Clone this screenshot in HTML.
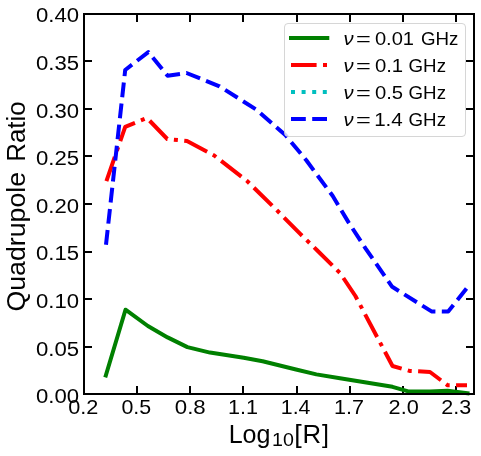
<!DOCTYPE html>
<html><head><meta charset="utf-8"><title>chart</title>
<style>
html,body{margin:0;padding:0;background:#fff;}
body{width:481px;height:456px;overflow:hidden;font-family:"Liberation Sans",sans-serif;}
svg{display:block;}
text{font-family:"Liberation Sans",sans-serif;fill:#000;}
</style></head><body>
<svg width="481" height="456" viewBox="0 0 481 456">
<rect x="0" y="0" width="481" height="456" fill="#fff"/>
<g stroke="#000" stroke-width="2">
<line x1="137" y1="394" x2="137" y2="386"/>
<line x1="137" y1="14" x2="137" y2="22"/>
<line x1="190" y1="394" x2="190" y2="386"/>
<line x1="190" y1="14" x2="190" y2="22"/>
<line x1="243" y1="394" x2="243" y2="386"/>
<line x1="243" y1="14" x2="243" y2="22"/>
<line x1="297" y1="394" x2="297" y2="386"/>
<line x1="297" y1="14" x2="297" y2="22"/>
<line x1="350" y1="394" x2="350" y2="386"/>
<line x1="350" y1="14" x2="350" y2="22"/>
<line x1="403" y1="394" x2="403" y2="386"/>
<line x1="403" y1="14" x2="403" y2="22"/>
<line x1="456" y1="394" x2="456" y2="386"/>
<line x1="456" y1="14" x2="456" y2="22"/>
<line x1="84" y1="347" x2="92" y2="347"/>
<line x1="474" y1="347" x2="466" y2="347"/>
<line x1="84" y1="299" x2="92" y2="299"/>
<line x1="474" y1="299" x2="466" y2="299"/>
<line x1="84" y1="252" x2="92" y2="252"/>
<line x1="474" y1="252" x2="466" y2="252"/>
<line x1="84" y1="204" x2="92" y2="204"/>
<line x1="474" y1="204" x2="466" y2="204"/>
<line x1="84" y1="156" x2="92" y2="156"/>
<line x1="474" y1="156" x2="466" y2="156"/>
<line x1="84" y1="109" x2="92" y2="109"/>
<line x1="474" y1="109" x2="466" y2="109"/>
<line x1="84" y1="61" x2="92" y2="61"/>
<line x1="474" y1="61" x2="466" y2="61"/>
</g>
<g fill="none" stroke-width="4" stroke-linejoin="round">
<polyline points="105.8,375.5 125.5,309.7 147.9,326.0 167.6,337.4 187.4,347.1 210.0,352.6 243.7,357.8 262.6,361.3 296.0,369.5 316.4,374.4 340.0,378.2 392.5,386.8 409.1,391.6 430.0,391.6 447.6,390.8 467.5,393.2" stroke="#008000" stroke-linecap="square"/>
<polyline points="106.4,181.1 125.2,126.8 147.0,118.0 167.3,139.0 187.0,141.0 214.2,155.5 247.1,181.0 277.4,210.8 300.0,233.7 316.8,250.0 340.0,273.0 355.4,296.0 392.5,366.0 409.5,370.9 430.0,372.0 447.7,385.3 467.0,385.3" stroke="#ff0000" stroke-dasharray="25.6 6.4 4 6.4"/>
<polyline points="106.0,244.7 125.2,70.0 148.3,52.1 167.6,75.7 186.5,73.0 219.5,86.3 256.3,109.6 285.3,135.0 306.3,160.3 332.6,195.8 348.4,222.1 365.5,248.4 392.2,286.8 431.5,311.4 448.2,311.6 466.5,288.5" stroke="#0000ff" stroke-dasharray="14.8 6.4"/>
</g>
<rect x="84" y="14" width="390" height="380" fill="none" stroke="#000" stroke-width="2"/>
<rect x="284.5" y="23.5" width="181" height="113" rx="3.5" ry="3.5" fill="#fff" fill-opacity="0.8" stroke="#cccccc" stroke-opacity="0.8" stroke-width="1"/>
<g fill="none" stroke-width="4">
<line x1="291" y1="38" x2="327.3" y2="38" stroke="#008000" stroke-linecap="square"/>
<line x1="291" y1="65" x2="327.3" y2="65" stroke="#ff0000" stroke-dasharray="25.6 6.4 4 6.4"/>
<line x1="291" y1="92" x2="327.3" y2="92" stroke="#00bfbf" stroke-dasharray="4 6.6"/>
<line x1="291" y1="119" x2="327.3" y2="119" stroke="#0000ff" stroke-dasharray="14.8 6.4"/>
</g>
<g opacity="0.996">
<text transform="translate(68.23,413.70) scale(1.0429,1)" font-size="20.8">0.2</text>
<text transform="translate(121.44,413.70) scale(1.0296,1)" font-size="20.8">0.5</text>
<text transform="translate(174.81,413.70) scale(1.0700,1)" font-size="20.8">0.8</text>
<text transform="translate(227.88,413.70) scale(1.0393,1)" font-size="20.8">1.1</text>
<text transform="translate(280.80,413.70) scale(1.0251,1)" font-size="20.8">1.4</text>
<text transform="translate(334.08,413.70) scale(1.0375,1)" font-size="20.8">1.7</text>
<text transform="translate(388.62,413.70) scale(1.0429,1)" font-size="20.8">2.0</text>
<text transform="translate(441.32,413.70) scale(1.0358,1)" font-size="20.8">2.3</text>
<text transform="translate(36.02,403.10) scale(1.0632,1)" font-size="20.8">0.00</text>
<text transform="translate(36.01,355.50) scale(1.0647,1)" font-size="20.8">0.05</text>
<text transform="translate(36.02,307.90) scale(1.0632,1)" font-size="20.8">0.10</text>
<text transform="translate(36.01,260.30) scale(1.0647,1)" font-size="20.8">0.15</text>
<text transform="translate(36.02,212.70) scale(1.0632,1)" font-size="20.8">0.20</text>
<text transform="translate(36.01,165.10) scale(1.0647,1)" font-size="20.8">0.25</text>
<text transform="translate(36.02,117.50) scale(1.0632,1)" font-size="20.8">0.30</text>
<text transform="translate(36.01,69.90) scale(1.0647,1)" font-size="20.8">0.35</text>
<text transform="translate(36.02,22.30) scale(1.0632,1)" font-size="20.8">0.40</text>
<text transform="translate(24.60,311.57) rotate(-90) scale(1.0568,1)" font-size="25.3">Quadrupole</text>
<text transform="translate(24.60,161.84) rotate(-90) scale(1.0266,1)" font-size="25.3">Ratio</text>
<text transform="translate(228.63,442.70) scale(0.9917,1)" font-size="25.3">Log</text>
<text transform="translate(272.03,445.70) scale(1.1164,1)" font-size="17.6">10</text>
<text transform="translate(294.35,442.70) scale(1.0607,1)" font-size="25.3">[</text>
<text transform="translate(302.47,442.70) scale(1.0207,1)" font-size="25.3">R</text>
<text transform="translate(322.01,442.70) scale(0.9881,1)" font-size="25.3">]</text>
<text transform="translate(343.44,44.90) scale(1.0815,1)" font-size="18.7" font-style="italic">ν</text>
<text transform="translate(355.93,44.90) scale(1.3562,1)" font-size="18.7">=</text>
<text transform="translate(374.89,44.90) scale(1.0767,1)" font-size="18.7">0.01</text>
<text transform="translate(420.96,44.90) scale(1.0020,1)" font-size="18.7">GHz</text>
<text transform="translate(343.44,71.90) scale(1.0815,1)" font-size="18.7" font-style="italic">ν</text>
<text transform="translate(355.93,71.90) scale(1.3562,1)" font-size="18.7">=</text>
<text transform="translate(374.89,71.90) scale(1.0880,1)" font-size="18.7">0.1</text>
<text transform="translate(408.56,71.90) scale(1.0020,1)" font-size="18.7">GHz</text>
<text transform="translate(343.44,98.90) scale(1.0815,1)" font-size="18.7" font-style="italic">ν</text>
<text transform="translate(355.93,98.90) scale(1.3562,1)" font-size="18.7">=</text>
<text transform="translate(374.89,98.90) scale(1.0838,1)" font-size="18.7">0.5</text>
<text transform="translate(408.56,98.90) scale(1.0020,1)" font-size="18.7">GHz</text>
<text transform="translate(343.44,125.90) scale(1.0815,1)" font-size="18.7" font-style="italic">ν</text>
<text transform="translate(355.93,125.90) scale(1.3562,1)" font-size="18.7">=</text>
<text transform="translate(374.15,125.90) scale(1.1028,1)" font-size="18.7">1.4</text>
<text transform="translate(408.56,125.90) scale(1.0020,1)" font-size="18.7">GHz</text>
</g>
</svg>
</body></html>
